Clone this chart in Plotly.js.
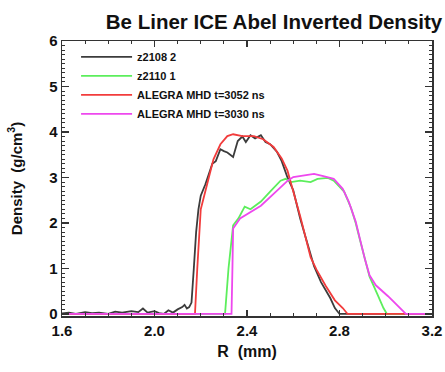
<!DOCTYPE html>
<html>
<head>
<meta charset="utf-8">
<script src="https://cdn.plot.ly/plotly-3.0.1.min.js"></script>
<style>html,body{margin:0;padding:0;background:#fff;}#chart{width:445px;height:372px;}</style>
</head>
<body>
<div id="chart"></div>
<script>
// z2108 2 (measured, black)
const blackR = [1.60,1.63,1.66,1.70,1.73,1.76,1.80,1.83,1.86,1.90,1.93,1.95,1.97,2.00,2.02,2.04,2.06,2.08,2.10,2.12,2.13,2.14,2.15,2.16,2.17,2.18,2.19,2.20,2.22,2.25,2.265,2.285,2.30,2.315,2.34,2.36,2.38,2.395,2.415,2.435,2.46,2.48,2.50,2.53,2.55,2.575,2.60,2.63,2.655,2.69,2.72,2.74,2.76,2.78,2.80,3.20];
const blackD = [0.01,0.03,0.00,0.04,0.02,0.03,0.00,0.05,0.03,0.06,0.04,0.12,0.03,0.06,0.02,0.00,0.08,0.03,0.10,0.15,0.20,0.12,0.15,0.25,1.00,1.80,2.30,2.60,2.85,3.30,3.36,3.62,3.58,3.55,3.45,3.80,3.90,3.78,3.93,3.86,3.93,3.78,3.73,3.56,3.36,3.00,2.72,2.10,1.66,1.05,0.70,0.52,0.35,0.13,0.00,0.00];
// z2110 1 (measured, green)
const greenR = [1.60,2.305,2.32,2.335,2.34,2.363,2.39,2.415,2.46,2.50,2.545,2.567,2.59,2.63,2.675,2.705,2.75,2.775,2.82,2.85,2.87,2.89,2.91,2.93,2.966,2.99,3.005,3.20];
const greenD = [0.00,0.00,1.00,1.85,1.95,2.10,2.36,2.30,2.47,2.69,2.93,2.97,2.90,2.93,2.90,2.97,2.99,2.93,2.69,2.33,2.00,1.60,1.20,0.82,0.41,0.13,0.00,0.00];
// ALEGRA MHD t=3052 ns (red)
const redR = [1.60,2.175,2.185,2.195,2.20,2.23,2.255,2.285,2.315,2.34,2.38,2.43,2.47,2.515,2.55,2.575,2.60,2.63,2.675,2.70,2.74,2.78,2.814,2.835,3.20];
const redD = [0.00,0.00,1.00,1.90,2.30,2.90,3.40,3.73,3.91,3.95,3.91,3.91,3.84,3.67,3.42,3.15,2.72,2.15,1.25,0.98,0.62,0.30,0.13,0.00,0.00];
// ALEGRA MHD t=3030 ns (magenta)
const pinkR = [1.60,2.333,2.337,2.34,2.37,2.46,2.53,2.576,2.60,2.63,2.69,2.73,2.775,2.814,2.84,2.87,2.89,2.91,2.93,2.957,3.01,3.053,3.087,3.20];
const pinkD = [0.00,0.00,1.00,1.88,2.10,2.38,2.71,2.93,3.01,3.03,3.08,3.03,2.97,2.75,2.47,2.03,1.60,1.20,0.85,0.63,0.39,0.17,0.00,0.00];

const names = ['z2108 2','z2110 1','ALEGRA MHD t=3052 ns','ALEGRA MHD t=3030 ns'];
const colors = ['#3c3c3c','#5cee5c','#f23c3c','#ee48ee'];
const xs = [blackR, greenR, redR, pinkR];
const ys = [blackD, greenD, redD, pinkD];

const traces = xs.map((x,i)=>({
  x: x, y: ys[i], type:'scatter', mode:'lines', name: names[i],
  line:{color: colors[i], width:1.8},
  legendgroup: 'g'+i
}));

const FONT = 'Liberation Sans, Arial, sans-serif';
const axisCommon = {
  showline:true, linecolor:'#333', linewidth:1.5, mirror:'allticks',
  ticks:'inside', tickcolor:'#333', tickwidth:1.2,
  showgrid:false, zeroline:false,
  tickfont:{family:FONT, size:15, weight:'bold', color:'#111'}
};

const layout = {
  width:445, height:372,
  margin:{l:62, r:13, t:41, b:56},
  paper_bgcolor:'#fff', plot_bgcolor:'#fff',
  font:{family:FONT, color:'#111'},
  title:{text:'Be Liner ICE Abel Inverted Density', x:274/445, xref:'container', xanchor:'center',
         y:1-22/372, yref:'container', yanchor:'middle',
         font:{family:FONT, size:20.5, weight:'bold', color:'#111'}},
  xaxis: Object.assign({}, axisCommon, {
    range:[1.6,3.2], tick0:1.6, dtick:0.4, tickformat:'.1f', ticklen:6,
    minor:{dtick:0.1, ticks:'inside', ticklen:3, tickcolor:'#333', tickwidth:1},
    title:{text:'R  (mm)', standoff:8, font:{family:FONT, size:16, weight:'bold', color:'#111'}}
  }),
  yaxis: Object.assign({}, axisCommon, {
    range:[-0.045,6.0], tick0:0, dtick:1, ticklen:7,
    minor:{dtick:0.1, ticks:'inside', ticklen:3, tickcolor:'#333', tickwidth:1},
    title:{text:'Density  (g/cm<sup>3</sup>)', font:{family:FONT, size:15, weight:'bold', color:'#111'}}
  }),
  showlegend:true,
  legend:{x:0.038, xanchor:'left', y:0.995, yanchor:'top', bgcolor:'rgba(0,0,0,0)',
          tracegroupgap:0, itemwidth:51,
          font:{family:FONT, size:11, weight:'bold', color:'#111'}}
};

Plotly.newPlot('chart', traces, layout, {displayModeBar:false, staticPlot:true});
</script>
</body>
</html>
